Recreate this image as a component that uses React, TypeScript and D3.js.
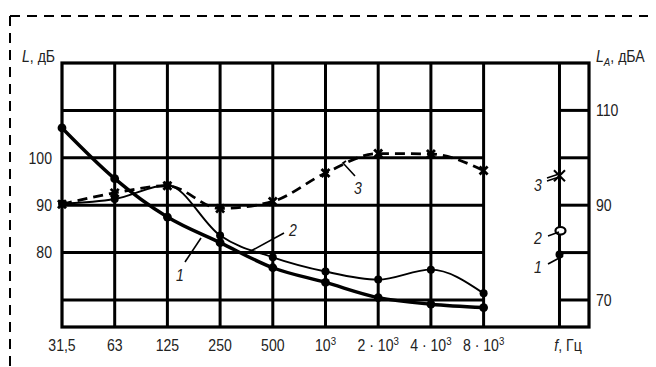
import React from "react";
import * as d3 from "d3";

// octave band centres (tick labels), superscript part kept apart
const tickBase = ["31,5", "63", "125", "250", "500", "10", "2 · 10", "4 · 10", "8 · 10"];
const tickSup = ["", "", "", "", "", "3", "3", "3", "3"];

// sound pressure levels, dB
const curve1 = [106.3, 95.6, 87.5, 82.1, 76.8, 73.7, 70.5, 69.1, 68.4];
const curve2 = [90.3, 91.3, 94.2, 83.6, 79.0, 76.0, 74.3, 76.4, 71.4];
const curve3 = [90.2, 92.6, 94.1, 89.3, 90.8, 96.8, 100.9, 100.8, 97.3];

// A-weighted levels, dBA (curves 1, 2, 3)
const levelA = [79.6, 84.6, 96.2];

const leftTicks = [100, 90, 80];
const rightTicks = [110, 90, 70];
const gridValues = [70, 80, 90, 100, 110];

const FONT = "'Liberation Sans', Arial, sans-serif";
const SQUEEZE = 0.88;

// narrow-looking text: horizontal squeeze around the anchor point
function T(props: {
  x: number;
  y: number;
  anchor?: "start" | "middle" | "end";
  italic?: boolean;
  dy?: string;
  children: React.ReactNode;
}) {
  return (
    <text
      transform={`translate(${props.x},${props.y}) scale(${SQUEEZE},1)`}
      textAnchor={props.anchor || "start"}
      fontStyle={props.italic ? "italic" : undefined}
      dy={props.dy}
    >
      {props.children}
    </text>
  );
}

export default function App() {
  const width = 656;
  const height = 367;

  const x = d3.scaleLinear().domain([0, 10]).range([62, 589]);
  const y = d3.scaleLinear().domain([64.3, 120]).range([327, 63]);
  const xA = x(9.44);
  const xLast = x(8);

  const line = d3
    .line<number>()
    .x((_, i) => x(i))
    .y((d) => y(d))
    .curve(d3.curveMonotoneX);

  const cross = (cx: number, cy: number, r: number, key: string, w = 2.8) => (
    <g key={key} stroke="#000" strokeWidth={w} strokeLinecap="butt">
      <line x1={cx - r} y1={cy - r} x2={cx + r} y2={cy + r} />
      <line x1={cx - r} y1={cy + r} x2={cx + r} y2={cy - r} />
    </g>
  );

  return (
    <svg
      width={width}
      height={height}
      style={{ position: "absolute", left: 0, top: 0, background: "#fff" }}
      fontFamily={FONT}
    >
      {/* dashed frame */}
      <path d="M10,16 V367" stroke="#000" strokeWidth={2} strokeDasharray="10,7" fill="none" />
      <path d="M10,16 H648" stroke="#000" strokeWidth={2} strokeDasharray="10,7" fill="none" />

      {/* grid */}
      <g stroke="#000" strokeWidth={3}>
        {gridValues.map((v) => (
          <g key={v}>
            <line x1={x(0)} x2={xLast} y1={y(v)} y2={y(v)} />
            <line x1={xA} x2={x(10)} y1={y(v)} y2={y(v)} />
          </g>
        ))}
        {d3.range(1, 9).map((i) => (
          <line key={i} x1={x(i)} x2={x(i)} y1={y(120)} y2={y(64.3)} />
        ))}
        <line x1={xA} x2={xA} y1={y(120)} y2={y(64.3)} />
        <rect x={x(0)} y={y(120)} width={x(10) - x(0)} height={y(64.3) - y(120)} fill="none" strokeWidth={3.2} />
      </g>

      {/* curves */}
      <path d={line(curve3) || ""} fill="none" stroke="#000" strokeWidth={2.8} strokeDasharray="10,6" />
      <path d={line(curve2) || ""} fill="none" stroke="#000" strokeWidth={1.9} />
      <path d={line(curve1) || ""} fill="none" stroke="#000" strokeWidth={3.4} />

      {curve1.map((v, i) => (
        <circle key={"a" + i} cx={x(i)} cy={y(v)} r={4.4} fill="#000" />
      ))}
      {curve2.map((v, i) => (
        <circle key={"b" + i} cx={x(i)} cy={y(v)} r={4} fill="#000" />
      ))}
      {curve3.map((v, i) => cross(x(i), y(v), 4, "c" + i))}

      {/* A-weighted markers */}
      <circle cx={xA} cy={y(levelA[0])} r={4} fill="#000" />
      <ellipse cx={xA + 1} cy={y(levelA[1])} rx={5} ry={3.8} fill="#fff" stroke="#000" strokeWidth={2.2} />
      {cross(xA, y(levelA[2]), 5.5, "ca", 2)}

      {/* curve labels with leaders */}
      <g stroke="#000" strokeWidth={1.6} fill="none">
        <line x1={185} y1={262} x2={201} y2={238} />
        <line x1={284} y1={233} x2={249} y2={252} />
        <polyline points="346,161 343,163 355,176" />
        <line x1={547} y1={178} x2={559} y2={174} />
        <line x1={547} y1={181} x2={559} y2={177} />
        <line x1={548} y1={236} x2={559} y2={232} />
        <line x1={548} y1={264} x2={563} y2={256} />
      </g>
      <g fontSize={16} fill="#222">
        <T x={180} y={281} anchor="middle" italic>1</T>
        <T x={293} y={236} anchor="middle" italic>2</T>
        <T x={358} y={194} anchor="middle" italic>3</T>
        <T x={538} y={191} anchor="middle" italic>3</T>
        <T x={538} y={244} anchor="middle" italic>2</T>
        <T x={538} y={273} anchor="middle" italic>1</T>
      </g>

      {/* left axis */}
      <g fontSize={16} fill="#222">
        {leftTicks.map((v) => (
          <T key={v} x={52} y={y(v)} dy="0.36em" anchor="end">
            {v}
          </T>
        ))}
        <T x={22} y={62}>
          <tspan fontStyle="italic">L</tspan>, дБ
        </T>
      </g>

      {/* right axis */}
      <g fontSize={16} fill="#222">
        {rightTicks.map((v) => (
          <T key={v} x={596} y={y(v)} dy="0.36em">
            {v}
          </T>
        ))}
        <T x={596} y={62}>
          <tspan fontStyle="italic">L</tspan>
          <tspan fontStyle="italic" fontSize={11} dy={4}>A</tspan>
          <tspan dy={-4}>, дБА</tspan>
        </T>
      </g>

      {/* frequency axis */}
      <g fontSize={16} fill="#222">
        {tickBase.map((t, i) => (
          <T key={i} x={x(i)} y={351} anchor="middle">
            {t}
            {tickSup[i] && (
              <tspan fontSize={11} dy={-6}>
                {tickSup[i]}
              </tspan>
            )}
          </T>
        ))}
        <T x={568} y={351} anchor="middle">
          <tspan fontStyle="italic">f</tspan>, Гц
        </T>
      </g>
    </svg>
  );
}
